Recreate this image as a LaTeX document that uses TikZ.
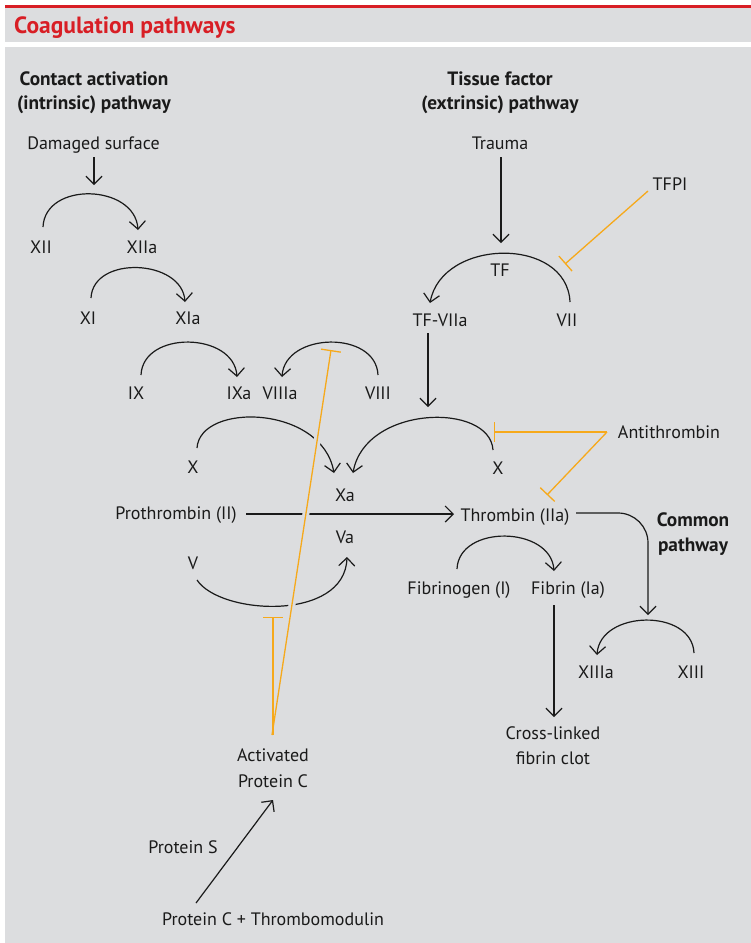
\documentclass[tikz,border=0pt]{standalone}
\usepackage{fontspec}
\setmainfont{PT Sans}
\usetikzlibrary{arrows.meta,calc}
\definecolor{bg}{HTML}{DCDDDF}
\definecolor{hdred}{HTML}{D81E25}
\definecolor{inhib}{HTML}{F6A91B}
\definecolor{ink}{HTML}{1A1A1A}
\begin{document}
\begin{tikzpicture}[x=1pt,y=-1pt,
  lbl/.style={anchor=base, inner sep=0pt, text=ink, font=\fontsize{18}{21}\selectfont},
  hd/.style={anchor=base, inner sep=0pt, text=ink, font=\fontsize{19.3}{22}\selectfont\bfseries},
  act/.style={draw=ink, line width=1.2pt, -{Straight Barb[length=8pt,width=16pt]}},
  inh/.style={draw=inhib, line width=1.3pt, -{Bar[width=20pt]}},
  erase/.style={draw=bg, line width=7pt}]
\useasboundingbox (0,0) rectangle (751,943);
\fill[white] (0,0) rectangle (751,943);
\fill[bg] (5,8) rectangle (751,42);
\fill[bg] (5,47) rectangle (751,943);
\fill[hdred] (5,5) rectangle (751,8);
\node[anchor=base west, inner sep=0pt, text=hdred, font=\fontsize{23.5}{26}\selectfont\bfseries] (title) at (14,33) {Coagulation pathways};

% headings
\node[hd] (contact1) at (94,85) {Contact activation};
\node[hd] (contact2) at (94,109) {(intrinsic) pathway};
\node[hd] (tissue1) at (500,85) {Tissue factor};
\node[hd] (tissue2) at (500,109) {(extrinsic) pathway};
\node[hd] (common1) at (693,526) {Common};
\node[hd] (common2) at (693,551) {pathway};

% labels
\node[lbl] (damaged) at (93.5,149) {Damaged surface};
\node[lbl] (xii) at (41,253) {XII};
\node[lbl] (xiia) at (142,253) {XIIa};
\node[lbl] (xi) at (88,324) {XI};
\node[lbl] (xia) at (188,324) {XIa};
\node[lbl] (ix) at (136,399) {IX};
\node[lbl] (ixa) at (239,399) {IXa};
\node[lbl] (viiia) at (280,399) {VIIIa};
\node[lbl] (viii) at (378,399) {VIII};
\node[lbl] (xl) at (193,473) {X};
\node[lbl] (xa) at (345,501) {Xa};
\node[lbl] (proth) at (176,519) {Prothrombin (II)};
\node[lbl] (va) at (345,543) {Va};
\node[lbl] (v) at (193,569) {V};
\node[lbl] (apc1) at (273,761) {Activated};
\node[lbl] (apc2) at (273,787) {Protein C};
\node[lbl] (prots) at (183,853) {Protein S};
\node[lbl] (pctm) at (273,925) {Protein C + Thrombomodulin};
\node[lbl] (trauma) at (500,149) {Trauma};
\node[lbl] (tfpi) at (670,190) {TFPI};
\node[lbl] (tf) at (500,276) {TF};
\node[lbl] (tfviia) at (440,326) {TF-VIIa};
\node[lbl] (vii) at (567,326) {VII};
\node[lbl] (xr) at (498,474) {X};
\node[lbl] (anti) at (669,438) {Antithrombin};
\node[lbl] (thrombin) at (515,521) {Thrombin (IIa)};
\node[lbl] (fibrinogen) at (459,594) {Fibrinogen (I)};
\node[lbl] (fibrin) at (568,594) {Fibrin (Ia)};
\node[lbl] (xiiia) at (596,678) {XIIIa};
\node[lbl] (xiii) at (691,678) {XIII};
\node[lbl] (clot1) at (553,739) {Cross-linked};
\node[lbl] (clot2) at (553,764) {fibrin clot};

% connector end points
\coordinate (damS) at (94,157);   \coordinate (damT) at (94,185);
\coordinate (a1S) at (43,227);    \coordinate (a1T) at (138,230);
\coordinate (a2S) at (91,298);    \coordinate (a2T) at (185,302);
\coordinate (a3S) at (141,375);   \coordinate (a3T) at (237,377);
\coordinate (a4S) at (378,375);   \coordinate (a4T) at (282,377);
\coordinate (a5S) at (197,448);   \coordinate (a5T) at (334,473);
\coordinate (a6S) at (493,450);   \coordinate (a6T) at (353,473);
\coordinate (a7S) at (570,302);   \coordinate (a7T) at (430,303);
\coordinate (a8S) at (197,580);   \coordinate (a8T) at (347,557);
\coordinate (a9S) at (457,569);   \coordinate (a9T) at (554,571);
\coordinate (a10S) at (694,653);  \coordinate (a10T) at (597,655);
\coordinate (trS) at (501,157);   \coordinate (trT) at (501,243);
\coordinate (tvS) at (428,333);   \coordinate (tvT) at (428,407);
\coordinate (prS) at (246,514);   \coordinate (prT) at (454,514);
\coordinate (thS) at (576,513);   \coordinate (thT) at (648,615);
\coordinate (fbS) at (554,605);   \coordinate (fbT) at (554,717);
\coordinate (pcS) at (196,903);   \coordinate (pcT) at (273,800);
\coordinate (tfpiS) at (648,191); \coordinate (tfpiT) at (565,264);
\coordinate (atS) at (607,432);   \coordinate (atT1) at (494,432); \coordinate (atT2) at (547,495);
\coordinate (apcS) at (272,735);  \coordinate (apcT1) at (331,350); \coordinate (apcT2) at (273,617);
\coordinate (apcS2) at (273,735);

% black connectors
\draw[act] (damS) -- (damT);
\draw[act] (a1S) .. controls +(2,-46) and +(-3,-46) .. (a1T);
\draw[act] (a2S) .. controls +(2,-43) and +(-3,-43) .. (a2T);
\draw[act] (a3S) .. controls +(2,-45) and +(-3,-45) .. (a3T);
\draw[act] (a4S) .. controls +(-2,-45) and +(3,-45) .. (a4T);
\draw[act] (a5S) .. controls (200,402) and (322,405) .. (a5T);
\draw[act] (a6S) .. controls (490,402) and (365,405) .. (a6T);
\draw[act] (a7S) .. controls (567,236) and (442,238) .. (a7T);
\draw[act] (a8S) .. controls (220,615) and (345,622) .. (a8T);
\draw[act] (a9S) .. controls +(2,-45) and +(-3,-45) .. (a9T);
\draw[act] (a10S) .. controls +(-2,-45) and +(3,-45) .. (a10T);
\draw[act] (trS) -- (trT);
\draw[act] (tvS) -- (tvT);
\draw[act] (prS) -- (prT);
\draw[act, rounded corners=30pt] (thS) -| (thT);
\draw[act] (fbS) -- (fbT);
\draw[act] (pcS) -- (pcT);

% gaps where the inhibitor line crosses
\draw[erase, shorten <=60pt, shorten >=40pt] (apcS) -- (apcT1);

% inhibitors
\draw[inh] (tfpiS) -- (tfpiT);
\draw[inh] (atS) -- (atT1);
\draw[inh] (atS) -- (atT2);
\draw[inh] (apcS) -- (apcT1);
\draw[inh] (apcS2) -- (apcT2);
\end{tikzpicture}
\end{document}
